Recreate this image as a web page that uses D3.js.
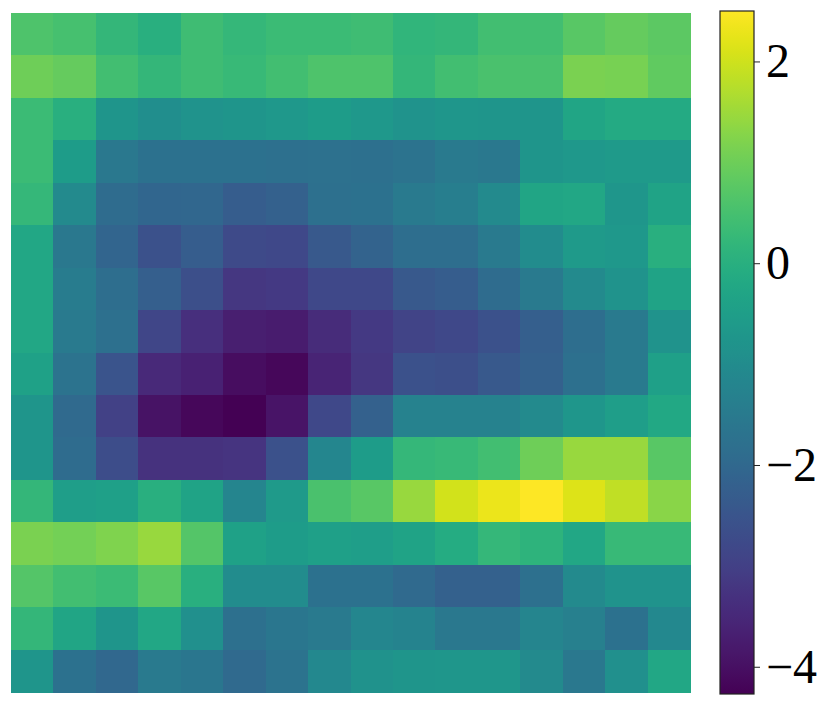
<!DOCTYPE html>
<html>
<head>
<meta charset="utf-8">
<script src="https://cdn.jsdelivr.net/npm/d3@7"></script>
<style>
    body { margin: 0; background: #fff; }
    .cbar text { font-family: "Liberation Serif", "Times New Roman", serif; }
</style>
</head>
<body>
<script>
// heatmap values, one array per row (top to bottom)
const values = [
    [ 0.60,  0.50,  0.20,  0.00,  0.40,  0.25,  0.35,  0.35,  0.40,  0.15,  0.20,  0.45,  0.45,  0.75,  0.90,  0.80],
    [ 1.00,  0.90,  0.45,  0.20,  0.40,  0.30,  0.45,  0.60,  0.60,  0.20,  0.45,  0.55,  0.55,  1.15,  1.10,  0.85],
    [ 0.35,  0.00, -0.75, -0.95, -0.80, -0.75, -0.65, -0.55, -0.65, -0.80, -0.70, -0.75, -0.75, -0.30, -0.15, -0.15],
    [ 0.35, -0.55, -1.55, -1.75, -1.75, -1.75, -1.80, -1.78, -1.80, -1.70, -1.50, -1.55, -0.75, -0.65, -0.60, -0.60],
    [ 0.25, -1.05, -1.90, -2.05, -2.03, -2.30, -2.20, -1.80, -1.75, -1.50, -1.40, -1.05, -0.30, -0.25, -0.70, -0.35],
    [-0.25, -1.55, -2.10, -2.60, -2.30, -2.75, -2.80, -2.40, -2.15, -1.85, -1.85, -1.50, -1.00, -0.60, -0.65,  0.00],
    [-0.25, -1.45, -1.85, -2.25, -2.65, -3.20, -3.15, -2.80, -2.80, -2.40, -2.30, -1.90, -1.50, -1.05, -0.80, -0.35],
    [-0.25, -1.50, -1.80, -2.85, -3.35, -3.70, -3.75, -3.45, -3.15, -2.90, -2.80, -2.60, -2.25, -1.85, -1.50, -0.80],
    [-0.40, -1.70, -2.50, -3.50, -3.65, -4.05, -4.15, -3.60, -3.20, -2.60, -2.65, -2.40, -2.20, -1.80, -1.50, -0.45],
    [-0.75, -1.95, -2.95, -3.95, -4.15, -4.25, -3.90, -2.80, -2.20, -1.30, -1.30, -1.30, -1.05, -0.70, -0.50, -0.20],
    [-0.75, -1.90, -2.70, -3.30, -3.30, -3.25, -2.60, -1.15, -0.55,  0.25,  0.30,  0.45,  1.00,  1.45,  1.45,  0.75],
    [ 0.20, -0.50, -0.45,  0.00, -0.35, -1.20, -0.60,  0.55,  0.75,  1.45,  2.05,  2.30,  2.50,  2.15,  1.85,  1.30],
    [ 1.15,  1.05,  1.20,  1.45,  0.70, -0.40, -0.55, -0.45, -0.50, -0.35, -0.10,  0.25,  0.10, -0.25,  0.30,  0.30],
    [ 0.70,  0.45,  0.35,  0.75,  0.00, -1.00, -1.00, -1.75, -1.75, -1.95, -2.20, -2.20, -1.80, -1.05, -0.80, -0.80],
    [ 0.20, -0.30, -0.75, -0.25, -0.90, -1.80, -1.60, -1.50, -1.15, -1.25, -1.55, -1.55, -1.20, -1.35, -1.75, -1.10],
    [-0.75, -1.75, -2.00, -1.50, -1.60, -1.95, -1.70, -1.10, -0.85, -0.75, -0.70, -0.70, -1.05, -1.55, -0.90, -0.25]
];
const colorDomain = [-4.27, 2.50];
const colorTicks = [-4, -2, 0, 2];

const width = 831;
const height = 707;

const heat = { x: 11, y: 13, size: 679 };
const cbar = { x: 720, y: 11, w: 34, h: 683 };

const svg = d3.select("body")
    .append("svg")
    .attr("width", width)
    .attr("height", height);

const color = d3.scaleSequential(d3.interpolateViridis).domain(colorDomain);

const nRows = values.length;
const nCols = values[0].length;

const x = d3.scaleBand()
    .domain(d3.range(nCols))
    .range([heat.x, heat.x + heat.size]);

const y = d3.scaleBand()
    .domain(d3.range(nRows))
    .range([heat.y, heat.y + heat.size]);

const cells = [];
values.forEach((row, i) => row.forEach((v, j) => cells.push({ i, j, v })));

// cells
svg.append("g")
    .selectAll("rect")
    .data(cells)
    .enter()
    .append("rect")
    .attr("x", d => x(d.j))
    .attr("y", d => y(d.i))
    .attr("width", x.bandwidth() + 0.5)
    .attr("height", y.bandwidth() + 0.5)
    .attr("fill", d => color(d.v))
    .attr("shape-rendering", "crispEdges");

// colorbar
const defs = svg.append("defs");
const grad = defs.append("linearGradient")
    .attr("id", "cbarGrad")
    .attr("x1", "0%").attr("y1", "100%")
    .attr("x2", "0%").attr("y2", "0%");

grad.selectAll("stop")
    .data(d3.range(0, 1.0001, 0.02))
    .enter()
    .append("stop")
    .attr("offset", t => `${t * 100}%`)
    .attr("stop-color", t => d3.interpolateViridis(t));

const cbarScale = d3.scaleLinear()
    .domain(colorDomain)
    .range([cbar.y + cbar.h, cbar.y]);

const cg = svg.append("g").classed("cbar", true);

cg.append("rect")
    .attr("x", cbar.x)
    .attr("y", cbar.y)
    .attr("width", cbar.w)
    .attr("height", cbar.h)
    .attr("fill", "url(#cbarGrad)")
    .attr("stroke", "#222")
    .attr("stroke-width", 1.2);

const axis = d3.axisRight(cbarScale)
    .tickValues(colorTicks)
    .tickSize(6)
    .tickPadding(6)
    .tickFormat(d => d < 0 ? `\u2212${Math.abs(d)}` : `${d}`);

cg.append("g")
    .attr("transform", `translate(${cbar.x + cbar.w},0)`)
    .call(axis)
    .call(g => g.select(".domain").remove())
    .call(g => g.selectAll("line").attr("stroke", "#222").attr("stroke-width", 1))
    .call(g => g.selectAll("text")
        .attr("font-size", 48)
        .attr("fill", "#000"));
</script>
</body>
</html>
